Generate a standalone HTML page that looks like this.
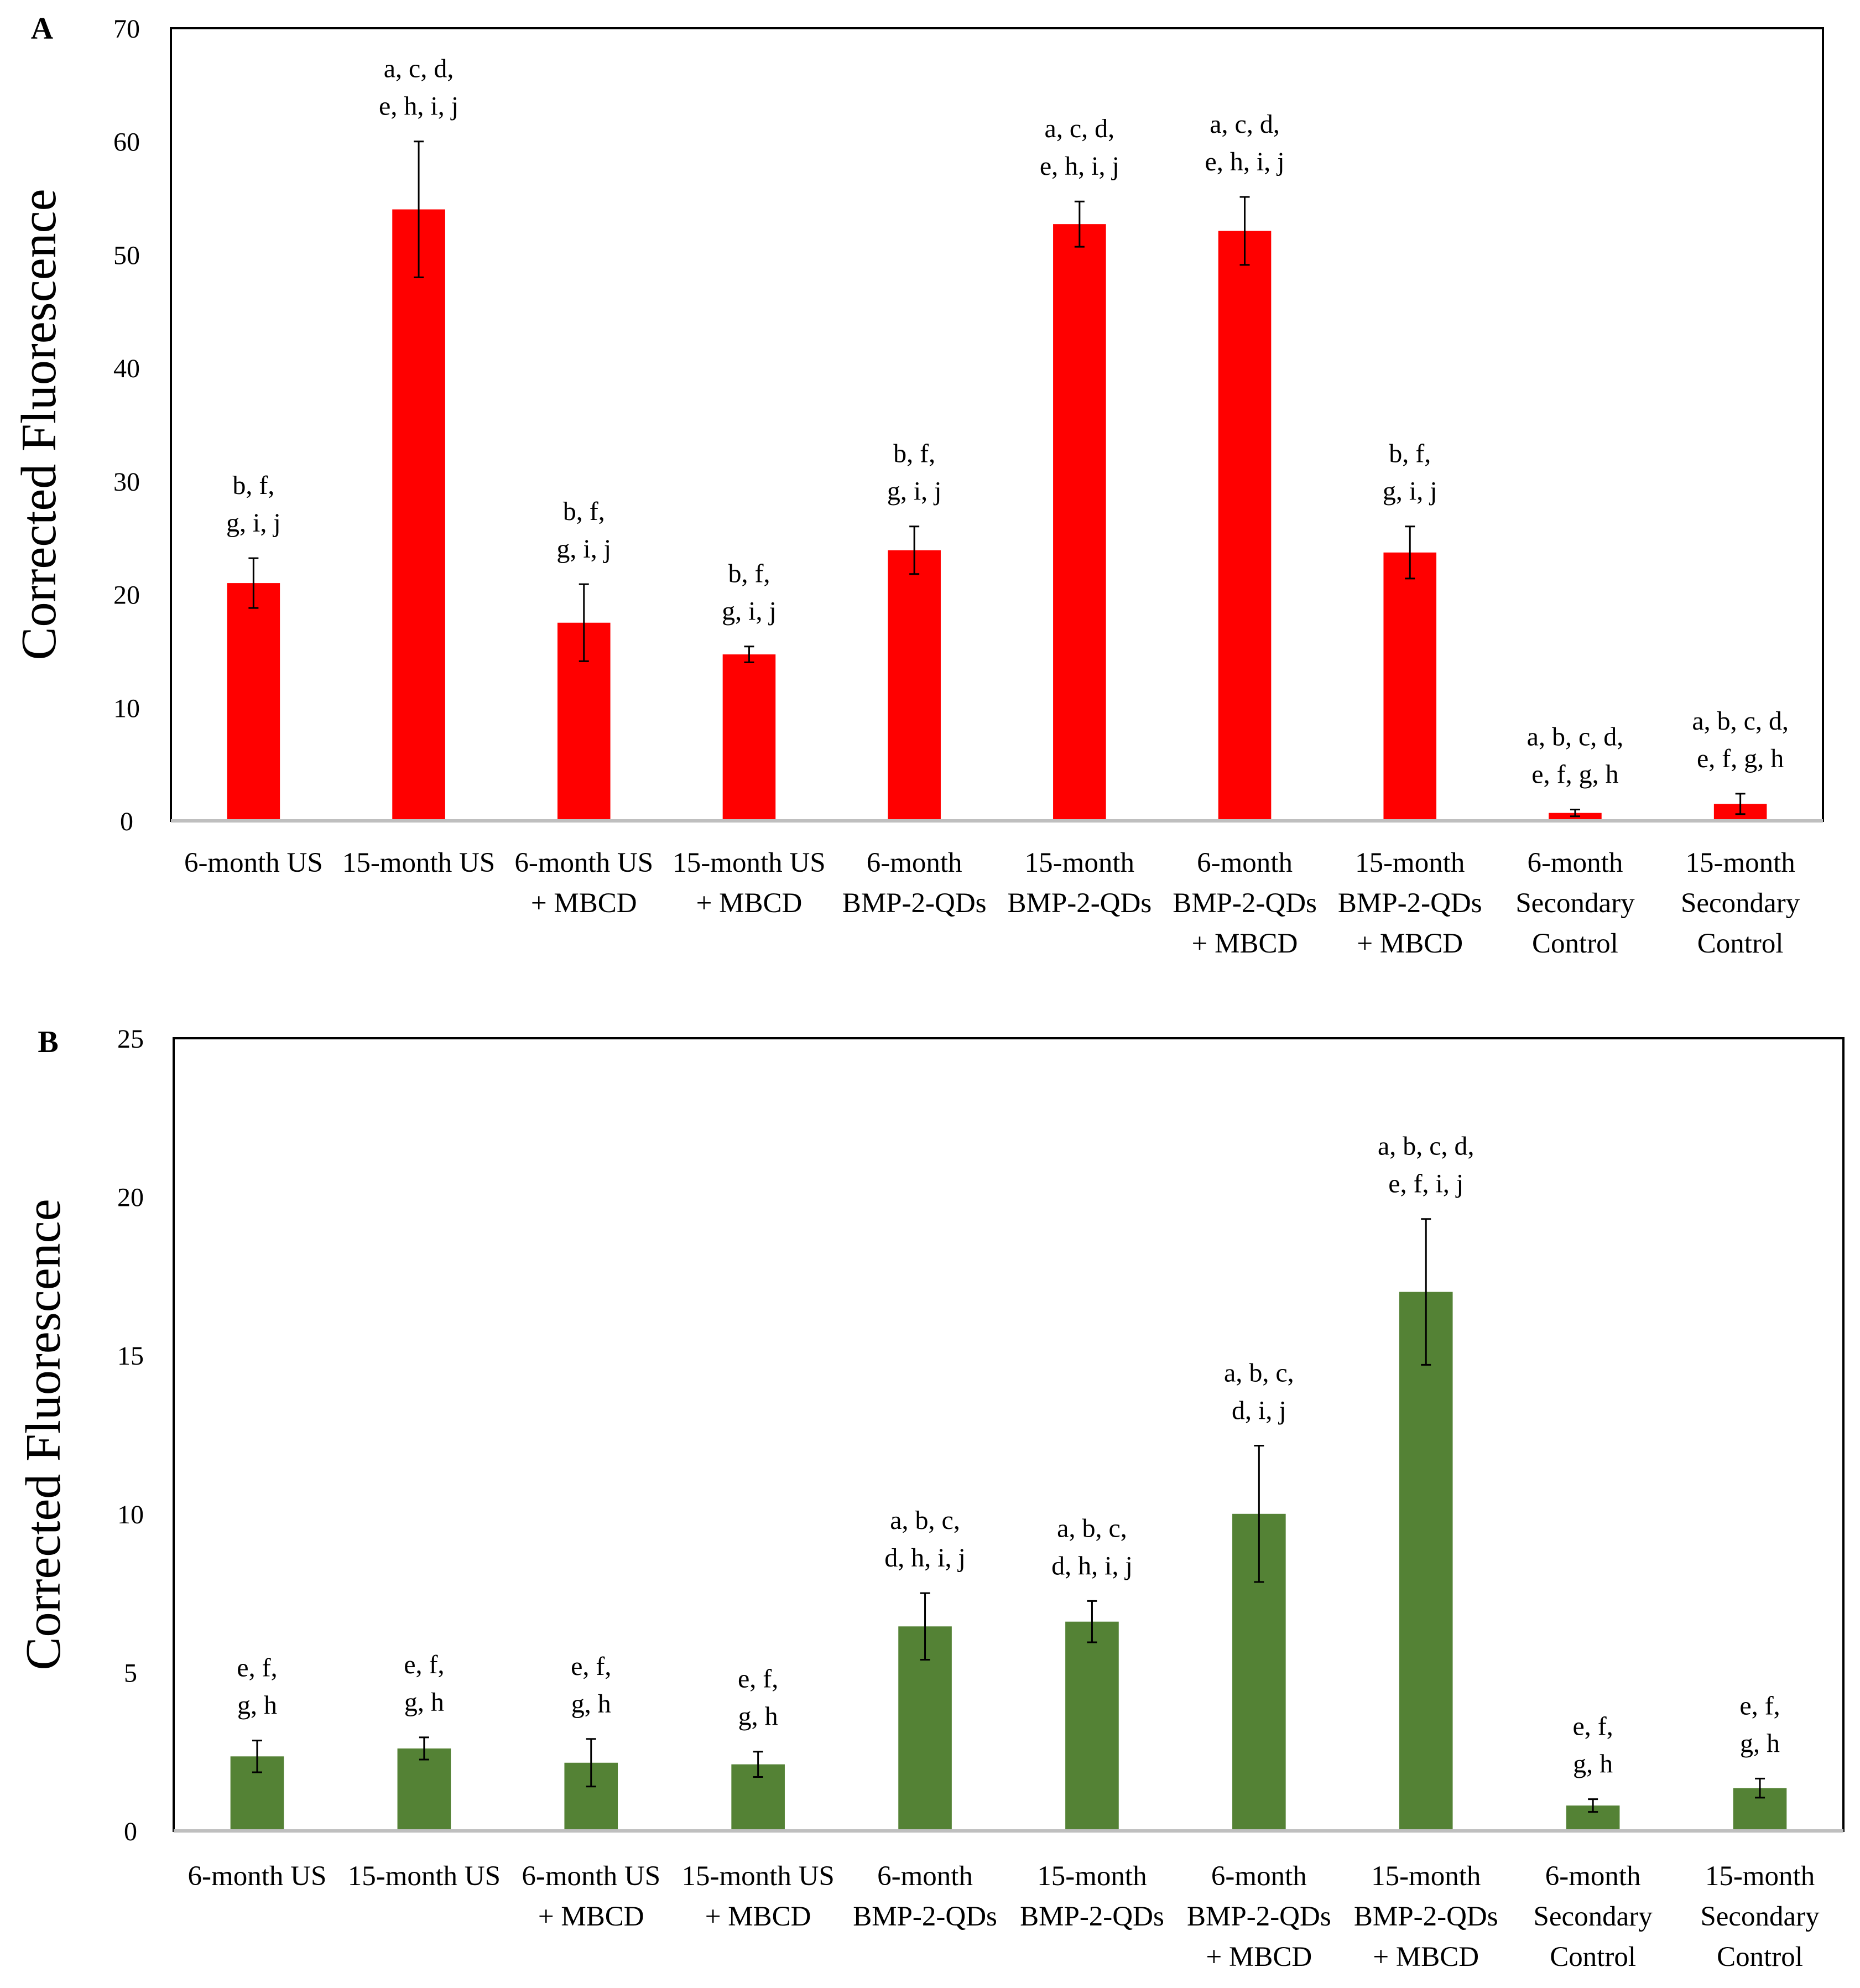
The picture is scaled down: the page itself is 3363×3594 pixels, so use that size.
<!DOCTYPE html>
<html><head><meta charset="utf-8">
<style>
html,body{margin:0;padding:0;background:#fff;}
svg{display:block;}
text{font-family:"Liberation Serif",serif;fill:#000;}
</style></head>
<body>
<svg id="chart" width="3363" height="3594" viewBox="0 0 3363 3594" xmlns="http://www.w3.org/2000/svg">
<rect width="3363" height="3594" fill="#fff"/>
</svg>
<script>
const categories = [["6-month US"],["15-month US"],["6-month US","+ MBCD"],["15-month US","+ MBCD"],["6-month","BMP-2-QDs"],["15-month","BMP-2-QDs"],["6-month","BMP-2-QDs","+ MBCD"],["15-month","BMP-2-QDs","+ MBCD"],["6-month","Secondary","Control"],["15-month","Secondary","Control"]];
const valuesA = [21, 54, 17.5, 14.7, 23.9, 52.7, 52.1, 23.7, 0.7, 1.5];
const errorsA = [2.2, 6, 3.4, 0.7, 2.1, 2.0, 3.0, 2.3, 0.3, 0.9];
const notesA = [["b, f,","g, i, j"],["a, c, d,","e, h, i, j"],["b, f,","g, i, j"],["b, f,","g, i, j"],["b, f,","g, i, j"],["a, c, d,","e, h, i, j"],["a, c, d,","e, h, i, j"],["b, f,","g, i, j"],["a, b, c, d,","e, f, g, h"],["a, b, c, d,","e, f, g, h"]];
const ticksA = [0,10,20,30,40,50,60,70];
const valuesB = [2.35, 2.6, 2.15, 2.1, 6.45, 6.6, 10, 17, 0.8, 1.35];
const errorsB = [0.5, 0.35, 0.75, 0.4, 1.05, 0.65, 2.15, 2.3, 0.2, 0.3];
const notesB = [["e, f,","g, h"],["e, f,","g, h"],["e, f,","g, h"],["e, f,","g, h"],["a, b, c,","d, h, i, j"],["a, b, c,","d, h, i, j"],["a, b, c,","d, i, j"],["a, b, c, d,","e, f, i, j"],["e, f,","g, h"],["e, f,","g, h"]];
const ticksB = [0,5,10,15,20,25];

const svg = document.getElementById('chart');
const NS = 'http://www.w3.org/2000/svg';
function mk(tag, attrs, parent){
  const e = document.createElementNS(NS, tag);
  for (const k in attrs) e.setAttribute(k, attrs[k]);
  (parent||svg).appendChild(e);
  return e;
}

function panel(cfg){
  const g = mk('g', {});
  
  
  const {L,R,T,B,max} = cfg;
  const y = v => B - v/max*(B-T);
  const band = (R-L)/categories.length;
  const x = i => L + band*(i+0.5);
  const frame = mk('rect', {x:L, y:T, width:R-L, height:B-T, fill:'none', stroke:'#000', 'stroke-width':4}, g);
  
  
  cfg.ticks.forEach(t => {
    const tx = mk('text', {x:cfg.tickX, y:y(t)+17, 'text-anchor':'middle', 'font-size':48}, g);
    tx.textContent = t;
    
    
  });
  cfg.values.forEach((v,i) => {
    const bw = band*0.32;
    const r = mk('rect', {x:x(i)-bw/2, y:y(v), width:bw, height:B-y(v), fill:cfg.color}, g);
    
    
    const e = cfg.errors[i];
    const top = y(v+e), bot = y(v-e);
    const eb = mk('path', {d:`M${x(i)},${top}V${bot}M${x(i)-9},${top}H${x(i)+9}M${x(i)-9},${bot}H${x(i)+9}`, stroke:'#000', 'stroke-width':3, fill:'none'}, g);
    
    
    cfg.notes[i].forEach((ln,k) => {
      const t = mk('text', {x:x(i), y:top - 48 - (cfg.notes[i].length-1-k)*68, 'text-anchor':'middle', 'font-size':48}, g);
      t.textContent = ln;
      
      
    });
    categories[i].forEach((ln,k) => {
      const t = mk('text', {x:x(i), y:cfg.catY + k*73, 'text-anchor':'middle', 'font-size':51}, g);
      t.textContent = ln;
      
      
    });
  });
  const base = mk('line', {x1:L, x2:R, y1:B, y2:B, stroke:'#bfbfbf', 'stroke-width':6}, g);
  
  
  const yt = mk('text', {x:0, y:0, 'text-anchor':'middle', 'font-size':90, transform:`translate(${cfg.titleX},${(T+B)/2}) rotate(-90)`}, g);
  yt.textContent = 'Corrected Fluorescence';
  
  
  const lt = mk('text', {x:cfg.letterX, y:cfg.letterY, 'text-anchor':'middle', 'font-size':56, 'font-weight':'bold'}, g);
  lt.textContent = cfg.letter;
  
  
}

panel({name:'panel-a', L:309, R:3296, T:51, B:1484, max:70, ticks:ticksA, values:valuesA, errors:errorsA, notes:notesA, color:'#ff0000', tickX:229, catY:1576, titleX:100, letter:'A', letterX:76, letterY:70});
panel({name:'panel-b', L:314, R:3333, T:1877, B:3310, max:25, ticks:ticksB, values:valuesB, errors:errorsB, notes:notesB, color:'#548235', tickX:236, catY:3408, titleX:108, letter:'B', letterX:87, letterY:1902});
</script>
</body></html>
